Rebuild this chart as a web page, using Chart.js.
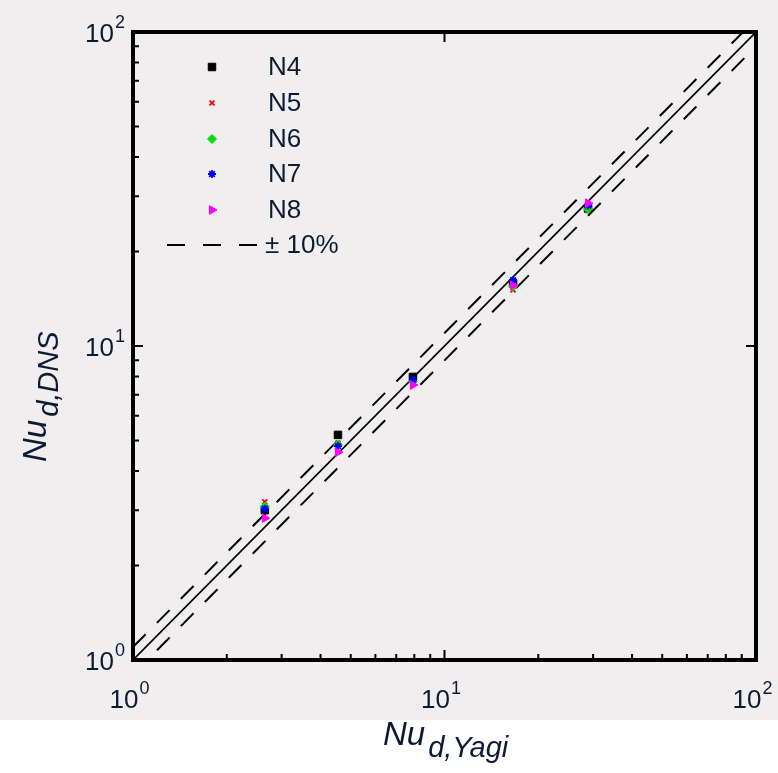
<!DOCTYPE html>
<html lang="en">
<head>
    <meta charset="UTF-8">
    <title>Nu DNS vs Yagi</title>
    <style>
        body { margin: 0; background: #ffffff; }
        canvas { display: block; }
    </style>
    <script src="https://cdn.jsdelivr.net/npm/chart.js"></script>
</head>
<body>
    <canvas id="myChart" width="778" height="773"></canvas>
    <script>
        // Nusselt numbers: correlation (x) vs DNS (y)
        const nuYagi = [2.65, 4.55, 7.92, 16.6, 28.9];
        const nuN4 = [3.0, 5.21, 7.97, 15.8, 27.4];
        const nuN5 = [3.19, 4.91, 7.6, 15.1, 27.0];
        const nuN6 = [3.08, 4.85, 7.7, 15.5, 27.3];
        const nuN7 = [3.03, 4.80, 7.8, 16.2, 28.0];
        const nuN8 = [2.83, 4.59, 7.51, 15.6, 28.5];
        const seriesNames = ['N4', 'N5', 'N6', 'N7', 'N8'];
        const bandLabel = '\u00b1 10%';
        const majorTicks = [1, 10, 100];
        const tickExponents = ['0', '1', '2'];
        const lineEnds = [1, 100];

        const FONT = '"Liberation Sans", Arial, sans-serif';

        function pts(ys) {
            return nuYagi.map((x, i) => ({ x: x, y: ys[i] }));
        }

        const markerStyles = [
            { pointStyle: 'rect', radius: 5.3, color: '#000000', borderWidth: 1 },
            { pointStyle: 'crossRot', radius: 3.5, color: '#ff0000', borderWidth: 1.8 },
            { pointStyle: 'rectRot', radius: 4.5, color: '#00e000', borderWidth: 1 },
            { pointStyle: 'star', radius: 4, color: '#0000ff', borderWidth: 1.8 },
            { pointStyle: 'triangle', radius: 5, color: '#ff00ff', borderWidth: 1, rotation: 90 }
        ];

        const seriesData = [nuN4, nuN5, nuN6, nuN7, nuN8];

        // later series sit on top, so give them a lower draw order
        const scatterSets = seriesData.map((ys, i) => ({
            type: 'scatter',
            label: seriesNames[i],
            data: pts(ys),
            pointStyle: markerStyles[i].pointStyle,
            pointRadius: markerStyles[i].radius,
            pointRotation: markerStyles[i].rotation || 0,
            pointBackgroundColor: markerStyles[i].color,
            pointBorderColor: markerStyles[i].color,
            pointBorderWidth: markerStyles[i].borderWidth,
            order: 5 - i
        }));

        // y = x and the +/-10% band
        const lineSets = [
            { label: 'y=x', data: lineEnds.map(v => ({ x: v, y: v })), borderDash: [], borderWidth: 1.6 },
            { label: '+10%', data: lineEnds.map(v => ({ x: v, y: v * 1.1 })), borderDash: [18, 16], borderWidth: 2 },
            { label: '-10%', data: lineEnds.map(v => ({ x: v, y: v * 0.9 })), borderDash: [18, 16], borderWidth: 2 }
        ].map(s => Object.assign(s, {
            type: 'line',
            borderColor: '#000000',
            pointRadius: 0,
            fill: false,
            tension: 0,
            order: 10
        }));

        function drawSup(ctx, base, sup, x, y, align) {
            // x is the anchor; align 'right' ends text at x, 'center' centers it
            ctx.font = '26px ' + FONT;
            const wb = ctx.measureText(base).width;
            ctx.font = '18px ' + FONT;
            const ws = ctx.measureText(sup).width;
            let start = x;
            if (align === 'right') start = x - wb - ws;
            if (align === 'center') start = x - (wb + ws) / 2;
            ctx.fillStyle = '#0d1a33';
            ctx.textAlign = 'left';
            ctx.textBaseline = 'alphabetic';
            ctx.font = '26px ' + FONT;
            ctx.fillText(base, start, y);
            ctx.font = '18px ' + FONT;
            ctx.fillText(sup, start + wb + 1, y - 14);
        }

        function drawTitle(ctx, main, sub, x, y) {
            ctx.fillStyle = '#0d1a33';
            ctx.textAlign = 'left';
            ctx.textBaseline = 'alphabetic';
            ctx.font = 'italic 33px ' + FONT;
            ctx.fillText(main, x, y);
            const w = ctx.measureText(main).width;
            ctx.font = 'italic 29px ' + FONT;
            ctx.fillText(sub, x + w + 3, y + 12);
        }

        const decorPlugin = {
            id: 'decor',
            beforeDraw(chart) {
                const ctx = chart.ctx;
                ctx.save();
                ctx.fillStyle = '#ffffff';
                ctx.fillRect(0, 0, chart.width, chart.height);
                ctx.fillStyle = '#f0eeef';
                ctx.fillRect(0, 0, chart.width, 720);
                ctx.restore();
            },
            afterDraw(chart) {
                const ctx = chart.ctx;
                const a = chart.chartArea;
                const xs = chart.scales.x;
                const ys = chart.scales.y;
                ctx.save();

                // minor + major ticks
                ctx.strokeStyle = '#000000';
                ctx.lineWidth = 2;
                ctx.beginPath();
                for (let d = 1; d < 100; d *= 10) {
                    for (let m = 1; m <= 9; m++) {
                        const v = d * m;
                        const len = m === 1 ? 10 : 6;
                        const px = xs.getPixelForValue(v);
                        const py = ys.getPixelForValue(v);
                        if (m === 1 && d === 1) continue;
                        ctx.moveTo(px, a.bottom);
                        ctx.lineTo(px, a.bottom - len);
                        ctx.moveTo(a.left, py);
                        ctx.lineTo(a.left + len, py);
                        if (m === 1) {
                            ctx.moveTo(px, a.top);
                            ctx.lineTo(px, a.top + len);
                            ctx.moveTo(a.right, py);
                            ctx.lineTo(a.right - len, py);
                        }
                    }
                }
                ctx.stroke();

                // frame
                ctx.lineWidth = 4;
                ctx.strokeRect(a.left, a.top, a.right - a.left, a.bottom - a.top);

                // tick labels
                majorTicks.forEach((v, i) => {
                    drawSup(ctx, '10', tickExponents[i], xs.getPixelForValue(v) - 4, 708, 'center');
                    drawSup(ctx, '10', tickExponents[i], 124, ys.getPixelForValue(v) + 10, 'right');
                });

                // axis titles
                drawTitle(ctx, 'Nu', 'd,Yagi', 383, 745);
                ctx.save();
                ctx.translate(46, 462);
                ctx.rotate(-Math.PI / 2);
                drawTitle(ctx, 'Nu', 'd,DNS', 0, 0);
                ctx.restore();

                // legend
                const rowY = [67, 103, 139, 174, 210];
                ctx.textBaseline = 'middle';
                ctx.textAlign = 'left';
                seriesNames.forEach((name, i) => {
                    const st = markerStyles[i];
                    ctx.fillStyle = st.color;
                    ctx.strokeStyle = st.color;
                    ctx.lineWidth = st.borderWidth;
                    Chart.helpers.drawPoint(ctx, {
                        pointStyle: st.pointStyle,
                        radius: st.radius,
                        rotation: st.rotation || 0,
                        borderWidth: st.borderWidth
                    }, 212, rowY[i]);
                    ctx.fillStyle = '#0d1a33';
                    ctx.font = '26px ' + FONT;
                    ctx.fillText(name, 268, rowY[i] + 1);
                });
                ctx.strokeStyle = '#000000';
                ctx.lineWidth = 2;
                ctx.setLineDash([18, 18]);
                ctx.beginPath();
                ctx.moveTo(167, 245);
                ctx.lineTo(259, 245);
                ctx.stroke();
                ctx.setLineDash([]);
                ctx.fillStyle = '#0d1a33';
                ctx.font = '26px ' + FONT;
                ctx.fillText(bandLabel, 265, 246);

                ctx.restore();
            }
        };

        const ctx = document.getElementById('myChart').getContext('2d');
        new Chart(ctx, {
            data: { datasets: lineSets.concat(scatterSets) },
            options: {
                responsive: false,
                animation: false,
                layout: { padding: { left: 133, right: 22, top: 32, bottom: 113 } },
                scales: {
                    x: { type: 'logarithmic', min: 1, max: 100, display: false },
                    y: { type: 'logarithmic', min: 1, max: 100, display: false }
                },
                plugins: {
                    legend: { display: false },
                    tooltip: { enabled: false }
                }
            },
            plugins: [decorPlugin]
        });
    </script>
</body>
</html>
